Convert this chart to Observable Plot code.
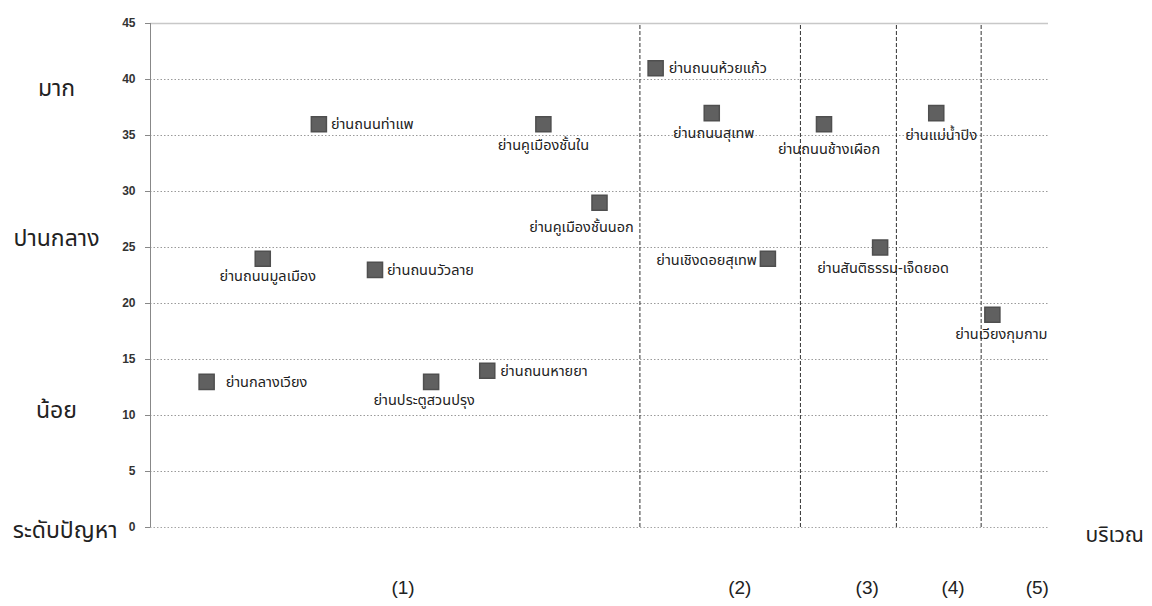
<!DOCTYPE html>
<html><head><meta charset="utf-8">
<script src="https://cdn.jsdelivr.net/npm/d3@7"></script>
<script src="https://cdn.jsdelivr.net/npm/@observablehq/plot@0.6"></script>
<style>
body{margin:0;background:#fff;}
#chart svg{display:block;}
</style>
</head><body><div id="chart"></div>
<script>
// ---- data ----
const districts = ["ย่านกลางเวียง","ย่านถนนมูลเมือง","ย่านถนนท่าแพ","ย่านถนนวัวลาย","ย่านประตูสวนปรุง","ย่านถนนหายยา","ย่านคูเมืองชั้นใน","ย่านคูเมืองชั้นนอก","ย่านถนนห้วยแก้ว","ย่านถนนสุเทพ","ย่านเชิงดอยสุเทพ","ย่านถนนช้างเผือก","ย่านสันติธรรม-เจ็ดยอด","ย่านแม่น้ำปิง","ย่านเวียงกุมกาม"];
const districtOrder = [1,2,3,4,5,6,7,8,9,10,11,12,13,14,15];
const problemScore = [13,24,36,23,13,14,36,29,41,37,24,36,25,37,19];
const groupBoundaries = [8.72,11.58,13.29,14.8];
const groupNames = ["(1)","(2)","(3)","(4)","(5)"];
const groupLabelX = [4.5,10.5,12.77,14.3,15.8];
const yTicks = [0,5,10,15,20,25,30,35,40,45];
const levelNames = ["มาก","ปานกลาง","น้อย"];
const levelY = [39.2,25.8,10.4];
const yAxisTitle = "ระดับปัญหา";
const xAxisTitle = "บริเวณ";

// label placement (layout only): [anchor, dx, dy]
const placement = {
  "ย่านกลางเวียง":["start",19,0],
  "ย่านถนนมูลเมือง":["middle",5,18],
  "ย่านถนนท่าแพ":["start",12,0],
  "ย่านถนนวัวลาย":["start",12,0],
  "ย่านประตูสวนปรุง":["middle",-7,18],
  "ย่านถนนหายยา":["start",13,1],
  "ย่านคูเมืองชั้นใน":["middle",0,21],
  "ย่านคูเมืองชั้นนอก":["middle",-18,25],
  "ย่านถนนห้วยแก้ว":["start",13,0],
  "ย่านถนนสุเทพ":["middle",2,20],
  "ย่านเชิงดอยสุเทพ":["end",-11,2],
  "ย่านถนนช้างเผือก":["middle",5,25],
  "ย่านสันติธรรม-เจ็ดยอด":["middle",3,21],
  "ย่านแม่น้ำปิง":["middle",5,22],
  "ย่านเวียงกุมกาม":["middle",9,20]
};

const data = districts.map((name,i)=>({name, x:districtOrder[i], y:problemScore[i]}));
const groups = groupNames.map((g,i)=>({g, x:groupLabelX[i]}));
const levels = levelNames.map((t,i)=>({t, y:levelY[i]}));

const thai = "'Noto Sans Thai','Noto Sans Thai UI','Loma','Garuda','Tlwg Typo','Norasi','DejaVu Sans',sans-serif";

const labelMarks = data.map(d=>{
  const [anchor,dx,dy] = placement[d.name];
  return Plot.text([d], {x:"x", y:"y", text:"name", textAnchor:anchor, dx, dy,
    fontSize:14.5, fill:"#222", fontFamily:thai});
});

const chart = Plot.plot({
  width:1152, height:606,
  marginLeft:150, marginRight:104, marginTop:23, marginBottom:79,
  style:{background:"#fff", overflow:"visible"},
  x:{domain:[0,16], axis:null},
  y:{domain:[0,45], axis:null},
  marks:[
    Plot.ruleY(yTicks.filter(t=>t>0 && t<45), {stroke:"#9a9a9a", strokeDasharray:"1.5,2", strokeWidth:1}),
    Plot.ruleY([45], {stroke:"#c8c8c8", strokeWidth:1.5}),
    Plot.ruleY([0], {stroke:"#a5a5a5", strokeDasharray:"1.5,2"}),
    Plot.ruleX(groupBoundaries, {y1:0, y2:45, stroke:"#333", strokeDasharray:"4,2", strokeWidth:1}),
    Plot.ruleX([0], {y1:0, y2:45, stroke:"#888"}),
    Plot.axisY({ticks:yTicks, tickSize:5, tickPadding:10, fontSize:12, fontWeight:"bold",
      fontFamily:"'Liberation Sans Narrow','Liberation Sans',sans-serif", label:null, stroke:"#888", color:"#333"}),
    Plot.dot(data, {x:"x", y:"y", symbol:"square", r:8.5, fill:"#606060", stroke:"#4f4f4f"}),
    ...labelMarks,
    Plot.text(levels, {y:"y", text:"t", frameAnchor:"left", dx:-94, textAnchor:"middle",
      fontSize:23, fill:"#222", fontFamily:thai}),
    Plot.text([yAxisTitle], {y:-0.3, text:d=>d, frameAnchor:"left", dx:-33, textAnchor:"end",
      fontSize:23, fill:"#222", fontFamily:thai}),
    Plot.text([xAxisTitle], {y:0, text:d=>d, frameAnchor:"right", dx:37, dy:8, textAnchor:"start",
      fontSize:21, fill:"#222", fontFamily:thai}),
    Plot.text(groups, {x:"x", text:"g", frameAnchor:"bottom", dy:66, textAnchor:"middle",
      fontSize:19, fill:"#222", fontFamily:"'Liberation Sans',Arial,sans-serif"})
  ]
});
document.getElementById("chart").append(chart);
</script>
</body></html>
